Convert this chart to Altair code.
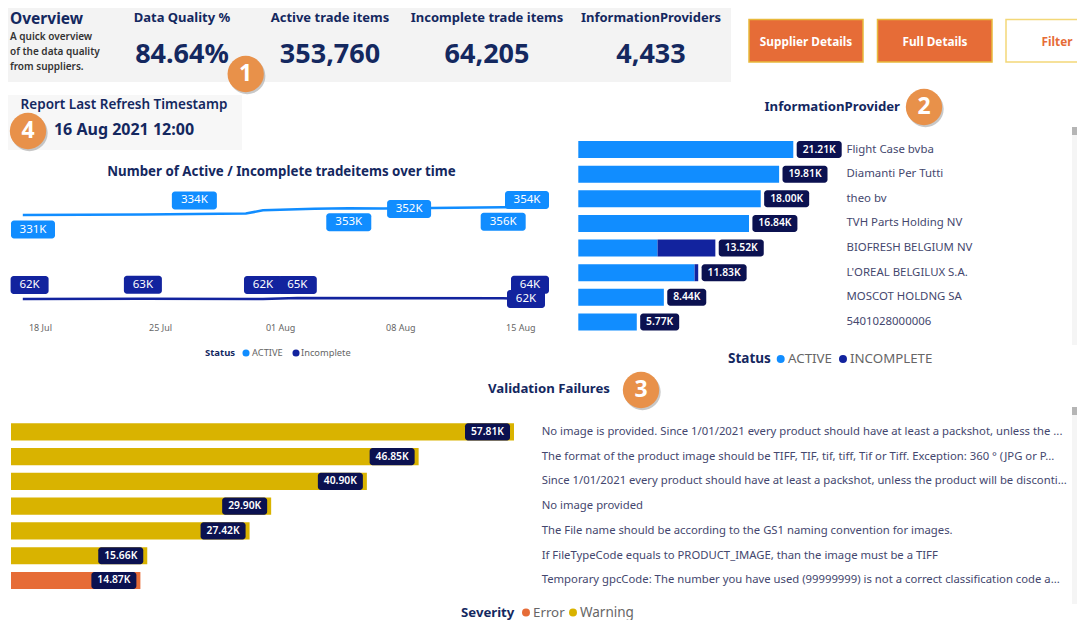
import altair as alt
import pandas as pd

# ---- data ----
kpi_titles = ["Data Quality %", "Active trade items", "Incomplete trade items", "InformationProviders"]
kpi_values = ["84.64%", "353,760", "64,205", "4,433"]

active_dates = ["2021-07-17", "2021-07-24", "2021-07-27", "2021-07-30", "2021-07-31", "2021-08-03",
                "2021-08-05", "2021-08-07", "2021-08-14", "2021-08-16"]
active_values = [331, 333, 334, 336, 346, 351, 353, 352, 356, 354]
incomplete_dates = ["2021-07-17", "2021-07-24", "2021-07-31", "2021-08-02", "2021-08-14", "2021-08-16"]
incomplete_values = [62, 63, 62, 65, 64, 62]
tick_dates = ["2021-07-18", "2021-07-25", "2021-08-01", "2021-08-08", "2021-08-15"]

providers = ["Flight Case bvba", "Diamanti Per Tutti", "theo bv", "TVH Parts Holding NV",
             "BIOFRESH BELGIUM NV", "L'OREAL BELGILUX S.A.", "MOSCOT HOLDNG SA", "5401028000006"]
provider_active = [21.21, 19.81, 18.00, 16.84, 7.82, 11.47, 8.44, 5.77]
provider_incomplete = [0, 0, 0, 0, 5.70, 0.36, 0, 0]
provider_totals = [21.21, 19.81, 18.00, 16.84, 13.52, 11.83, 8.44, 5.77]

failures = [
    "No image is provided. Since 1/01/2021 every product should have at least a packshot, unless the ...",
    "The format of the product image should be TIFF, TIF, tif, tiff, Tif or Tiff. Exception: 360 ° (JPG or P...",
    "Since 1/01/2021 every product should have at least a packshot, unless the product will be disconti...",
    "No image provided",
    "The File name should be according to the GS1 naming convention for images.",
    "If FileTypeCode equals to PRODUCT_IMAGE, than the image must be a TIFF",
    "Temporary gpcCode: The number you have used (99999999) is not a correct classification code a...",
]
failure_totals = [57.81, 46.85, 40.90, 29.90, 27.42, 15.66, 14.87]
failure_severity = ["Warning"] * 6 + ["Error"]

# ---- style ----
BLUE, NAVY, DARK = "#118DFF", "#12239E", "#0B1150"
ORANGE, YELLOW, BUBBLE = "#E66C37", "#D9B300", "#E8914A"
HEAD, LABEL = "#14285F", "#44476E"
FONT = "Noto Sans"
W, H = 1069, 612

base = pd.DataFrame({"a": [0]})
layers = []


def px(v):
    return alt.value(v - 8)


def box(x0, y0, x1, y1, fill, stroke=None, sw=0, radius=0):
    kw = {"fill": fill, "cornerRadius": radius}
    if stroke:
        kw.update(stroke=stroke, strokeWidth=sw)
    layers.append(alt.Chart(base).mark_rect(**kw).encode(x=px(x0), x2=px(x1), y=px(y0), y2=px(y1)))


def txt(s, x, y, size, color, weight="normal", align="left"):
    layers.append(alt.Chart(base).mark_text(text=s, fontSize=size, color=color, fontWeight=weight,
                                            align=align, baseline="middle", font=FONT)
                  .encode(x=px(x), y=px(y)))


def dot(x, y, r, color, opacity=1):
    layers.append(alt.Chart(base).mark_circle(size=3.1416 * r * r, color=color, opacity=opacity)
                  .encode(x=px(x), y=px(y)))


def bubble(x, y, s):
    dot(x + 1.5, y + 2, 20.5, "#9A9A9A", 0.55)
    dot(x, y, 20.5, BUBBLE)
    txt(s, x, y, 23, "#FFFFFF", "bold", "center")


# ---- header ----
box(8, 8, 731, 82, "#F3F3F3")
txt("Overview", 10, 19, 15.5, HEAD, "bold")
for i, s in enumerate(["A quick overview", "of the data quality", "from suppliers."]):
    txt(s, 10, 37 + 15 * i, 10, "#333333", 600)
for cx, t, v in zip([182, 330, 487, 651], kpi_titles, kpi_values):
    txt(t, cx, 18, 13, HEAD, "bold", "center")
    txt(v, cx, 55, 27, HEAD, "bold", "center")

box(749, 19.5, 863, 62, ORANGE, "#E8B93C", 1.5)
box(877.5, 19.5, 992, 62, ORANGE, "#E8B93C", 1.5)
box(1006, 19.5, 1095, 62, "#FFFFFF", "#F3D878", 1.5)
txt("Supplier Details", 806, 41.5, 11.8, "#FFFFFF", "bold", "center")
txt("Full Details", 935, 41.5, 11.8, "#FFFFFF", "bold", "center")
txt("Filter", 1057, 41.5, 11.8, ORANGE, "bold", "center")

box(8, 95, 242, 150, "#F7F7F7")
txt("Report Last Refresh Timestamp", 124, 105, 13.5, HEAD, 600, "center")
txt("16 Aug 2021 12:00", 124, 130, 16, HEAD, "bold", "center")

# ---- line chart ----
txt("Number of Active / Incomplete tradeitems over time", 281.5, 172, 13.3, HEAD, "bold", "center")
x_time = alt.Scale(type="utc", domain=["2021-07-17", "2021-08-16"], range=[22.8 - 8, 537.5 - 8])
y_items = alt.Scale(domain=[0, 400], range=[318.3 - 8, 193.5 - 8])

layers.append(
    alt.Chart(pd.DataFrame({"d": tick_dates})).mark_point(opacity=0).encode(
        x=alt.X("d:T", scale=x_time, axis=alt.Axis(
            orient="bottom", offset=315 - H, values=tick_dates, format="%d %b", title=None,
            domain=False, ticks=False, grid=False, labelFont=FONT, labelFontSize=9,
            labelColor="#666666", labelPadding=0, labelAngle=0)))
)

for dates, vals, color in [(active_dates, active_values, BLUE), (incomplete_dates, incomplete_values, NAVY)]:
    layers.append(alt.Chart(pd.DataFrame({"d": dates, "v": vals})).mark_line(color=color, strokeWidth=2.5)
                  .encode(x=alt.X("d:T", scale=x_time, axis=None), y=alt.Y("v:Q", scale=y_items, axis=None)))

# date, value, label, half width, pill x offset, pill y offset, colour
line_pills = [
    ("2021-07-17", 331, "331K", 22, 10.2, 14.5, BLUE),
    ("2021-07-27", 334, "334K", 22.5, 0, -13.6, BLUE),
    ("2021-08-05", 353, "353K", 22.5, 0, 14, BLUE),
    ("2021-08-07", 352, "352K", 22, 26, 0.5, BLUE),
    ("2021-08-14", 356, "356K", 22.5, 0, 14.5, BLUE),
    ("2021-08-16", 354, "354K", 22, -10.5, -7.8, BLUE),
    ("2021-07-17", 62, "62K", 19, 6.8, -14, NAVY),
    ("2021-07-24", 63, "63K", 19, 0, -14, NAVY),
    ("2021-07-31", 62, "62K", 19, 0, -14, NAVY),
    ("2021-08-02", 65, "65K", 19.5, 0, -13, NAVY),
    ("2021-08-16", 64, "64K", 19, -7.5, -13.5, NAVY),
    ("2021-08-16", 62, "62K", 19, -11.5, 0, NAVY),
]
for d, v, lab, hw, ox, oy, color in line_pills:
    src = alt.Chart(pd.DataFrame({"d": [d], "v": [v], "t": [lab]}))
    xe = alt.X("d:T", scale=x_time, axis=None)
    ye = alt.Y("v:Q", scale=y_items, axis=None)
    layers.append(src.mark_rect(fill=color, cornerRadius=3, xOffset=ox - hw, x2Offset=ox + hw,
                                yOffset=oy - 9, y2Offset=oy + 9)
                  .encode(x=xe, x2=alt.X2("d:T"), y=ye, y2=alt.Y2("v:Q")))
    layers.append(src.mark_text(color="#FFFFFF", fontSize=11.5, font=FONT, dx=ox, dy=oy, baseline="middle", align="center")
                  .encode(x=xe, y=ye, text="t:N"))

txt("Status", 205, 353, 9.5, HEAD, "bold")
dot(246, 353, 4, BLUE)
txt("ACTIVE", 252, 353, 9.3, "#666666")
dot(296, 353, 4, NAVY)
txt("Incomplete", 301, 353, 9.3, "#666666")

# ---- InformationProvider ----
txt("InformationProvider", 900, 107, 13.2, HEAD, "bold", "right")
y_prov = alt.Scale(type="band", domain=providers, range=[141 - 8, 330.5 - 8], paddingInner=0.31, paddingOuter=0)
x_prov = alt.Scale(domain=[0, 21.21], range=[578.3 - 8, 793.3 - 8])
prov_long = pd.DataFrame({
    "provider": providers * 2,
    "status": ["ACTIVE"] * len(providers) + ["INCOMPLETE"] * len(providers),
    "value": provider_active + provider_incomplete,
})
layers.append(alt.Chart(prov_long).mark_bar().encode(
    x=alt.X("value:Q", stack="zero", scale=x_prov, axis=None),
    y=alt.Y("provider:N", sort=providers, scale=y_prov, axis=None),
    color=alt.Color("status:N", scale=alt.Scale(domain=["ACTIVE", "INCOMPLETE"], range=[BLUE, NAVY]), legend=None),
    order=alt.Order("status:N"),
))
prov_tot = pd.DataFrame({"provider": providers, "total": provider_totals,
                         "t": [f"{v:.2f}K" for v in provider_totals]})
for cond, w in [("datum.total >= 10", 45), ("datum.total < 10", 39)]:
    src = alt.Chart(prov_tot).transform_filter(cond)
    xe = alt.X("total:Q", scale=x_prov, axis=None)
    ye = alt.Y("provider:N", sort=providers, scale=y_prov, axis=None)
    layers.append(src.mark_rect(fill=DARK, cornerRadius=3, xOffset=3.4, x2Offset=3.4 + w).encode(x=xe, x2=alt.X2("total:Q"), y=ye))
    layers.append(src.mark_text(color="#FFFFFF", fontSize=10.3, fontWeight=600, font=FONT, dx=3.4 + w / 2, align="center", baseline="middle")
                  .encode(x=xe, y=ye, text="t:N"))
layers.append(alt.Chart(prov_tot).mark_text(align="left", baseline="middle", fontSize=11.4, color=LABEL, font=FONT)
              .encode(x=px(846.5), y=alt.Y("provider:N", sort=providers, scale=y_prov, axis=None), text="provider:N"))

txt("Status", 728, 359, 13.5, HEAD, "bold")
dot(780.7, 359, 4.5, BLUE)
txt("ACTIVE", 788, 359, 13.3, "#666666")
dot(843, 359, 4.5, NAVY)
txt("INCOMPLETE", 850, 359, 13.3, "#666666")

# ---- Validation failures ----
txt("Validation Failures", 549, 389, 13.2, HEAD, "bold", "center")
y_fail = alt.Scale(type="band", domain=failures, range=[423.3 - 8, 589 - 8], paddingInner=0.31, paddingOuter=0)
x_fail = alt.Scale(domain=[0, 57.81], range=[11 - 8, 514 - 8])
fail_df = pd.DataFrame({"rule": failures, "total": failure_totals, "severity": failure_severity,
                        "t": [f"{v:.2f}K" for v in failure_totals]})
xe = alt.X("total:Q", scale=x_fail, axis=None)
ye = alt.Y("rule:N", sort=failures, scale=y_fail, axis=None)
layers.append(alt.Chart(fail_df).mark_bar().encode(
    x=xe, y=ye,
    color=alt.Color("severity:N", scale=alt.Scale(domain=["Error", "Warning"], range=[ORANGE, YELLOW]), legend=None)))
layers.append(alt.Chart(fail_df).mark_rect(fill=DARK, cornerRadius=3, xOffset=-49, x2Offset=-4)
              .encode(x=xe, x2=alt.X2("total:Q"), y=ye))
layers.append(alt.Chart(fail_df).mark_text(color="#FFFFFF", fontSize=10.3, fontWeight=600, font=FONT, dx=-26.5, align="center", baseline="middle")
              .encode(x=xe, y=ye, text="t:N"))
layers.append(alt.Chart(fail_df).mark_text(align="left", baseline="middle", fontSize=11.3, color=LABEL, font=FONT)
              .encode(x=px(541.7), y=ye, text="rule:N"))

txt("Severity", 461, 612.5, 13.2, HEAD, "bold")
dot(526, 612.5, 4.5, ORANGE)
txt("Error", 533, 612.5, 13.3, "#666666")
dot(573, 612.5, 4.5, YELLOW)
txt("Warning", 580, 612.5, 13.5, "#666666")

# ---- scroll tracks (kept inside the chart's right edge) ----
box(1072, 127, 1077, 345, "#F5F5F5")
box(1072, 127, 1077, 135, "#B5B5B5")
box(1072, 407, 1077, 604, "#F5F5F5")
box(1072, 407, 1077, 415, "#B5B5B5")

# ---- number bubbles ----
bubble(245.7, 74, "1")
bubble(924, 107, "2")
bubble(641, 390, "3")
bubble(28, 131, "4")

chart = (
    alt.layer(*layers)
    .resolve_scale(x="independent", y="independent", color="independent")
    .properties(width=W, height=H, padding=0, background="#FFFFFF",
                autosize=alt.AutoSizeParams(type="none"))
    .configure_view(stroke=None)
)
chart.save("out.html", embed_options={"renderer": "svg", "actions": False})
